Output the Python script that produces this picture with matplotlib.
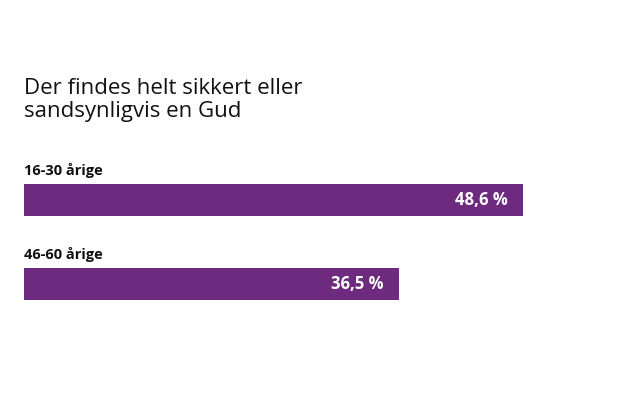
import matplotlib
matplotlib.use("Agg")
import matplotlib.pyplot as plt

title = "Der findes helt sikkert eller\nsandsynligvis en Gud"
categories = ["16-30 årige", "46-60 årige"]
values = [48.6, 36.5]

px_per_unit = 10.27
fig = plt.figure(figsize=(6.3, 4.0), dpi=100)
ax = fig.add_axes([0, 0, 1, 1])
ax.set_xlim(-24 / px_per_unit, (630 - 24) / px_per_unit)
ax.set_ylim(400, 0)
ax.axis("off")

bar_centers = [200, 284]
color = "#6e2a7e"
for cat, v, yc in zip(categories, values, bar_centers):
    ax.barh(yc, v, height=32, left=0, color=color)
    ax.text(0, yc - 22, cat, fontsize=10.5, fontweight="bold", ha="left", va="bottom",
            family="Open Sans", color="#111111")
    ax.text(v - 15 / px_per_unit, yc, f"{v:.1f} %".replace(".", ","), color="white",
            fontsize=12, fontweight="bold", ha="right", va="center", family="Open Sans")

ax.text(0, 78, title, fontsize=16, ha="left", va="top", family="Open Sans",
        color="#111111", linespacing=1.15)

fig.savefig("out.png", dpi=100, facecolor="white")
